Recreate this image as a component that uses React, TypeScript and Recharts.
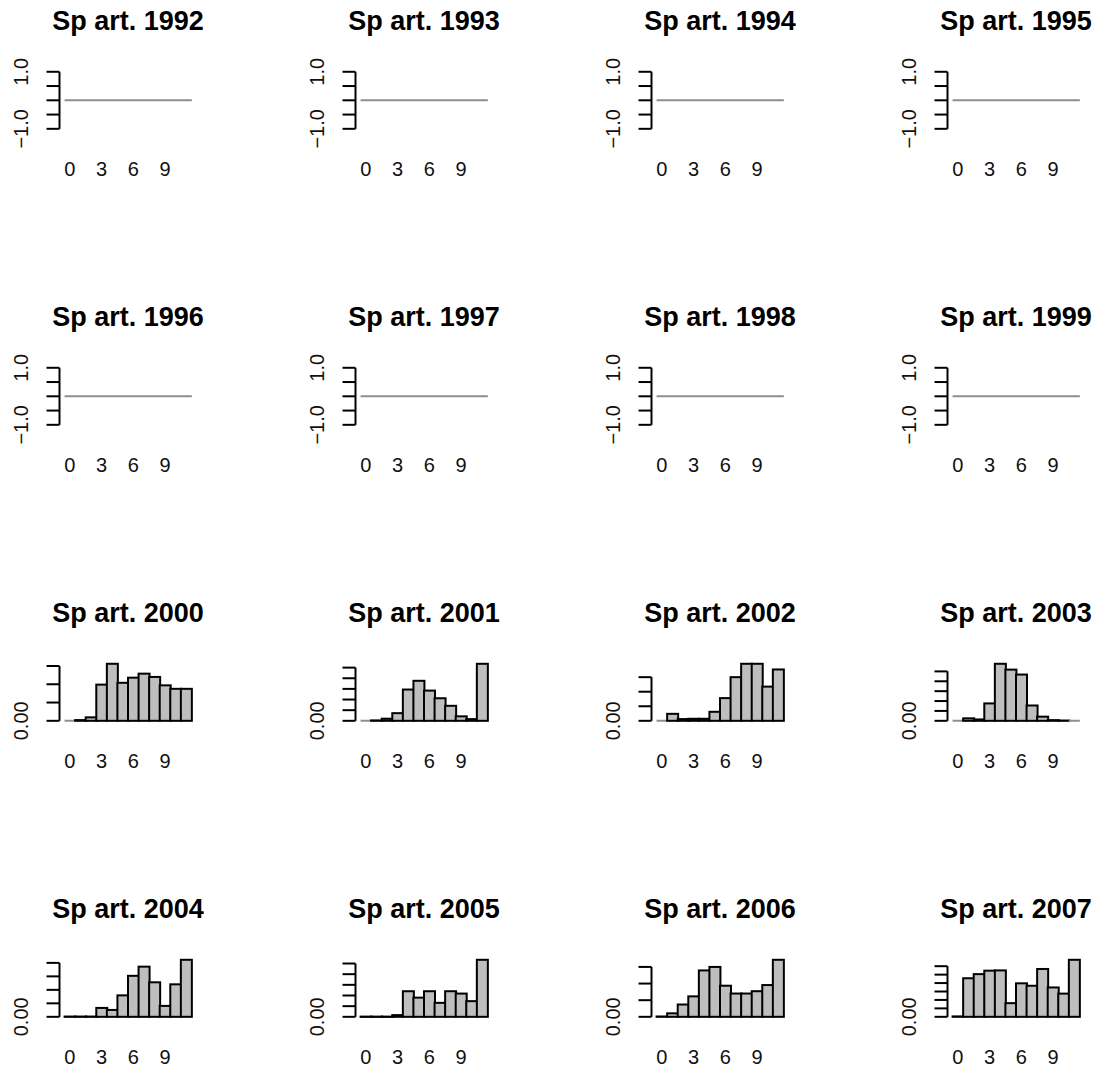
import React from 'react';
import { BarChart, Bar, XAxis, YAxis, ReferenceLine } from 'recharts';

// ---------- data ----------
const ages = [0, 1, 2, 3, 4, 5, 6, 7, 8, 9, 10, 11];
const ageTickLabels = [0, 3, 6, 9];
const years = [1992, 1993, 1994, 1995, 1996, 1997, 1998, 1999, 2000, 2001, 2002, 2003, 2004, 2005, 2006, 2007];

const sp1992 = [0, 0, 0, 0, 0, 0, 0, 0, 0, 0, 0, 0];
const sp1993 = [0, 0, 0, 0, 0, 0, 0, 0, 0, 0, 0, 0];
const sp1994 = [0, 0, 0, 0, 0, 0, 0, 0, 0, 0, 0, 0];
const sp1995 = [0, 0, 0, 0, 0, 0, 0, 0, 0, 0, 0, 0];
const sp1996 = [0, 0, 0, 0, 0, 0, 0, 0, 0, 0, 0, 0];
const sp1997 = [0, 0, 0, 0, 0, 0, 0, 0, 0, 0, 0, 0];
const sp1998 = [0, 0, 0, 0, 0, 0, 0, 0, 0, 0, 0, 0];
const sp1999 = [0, 0, 0, 0, 0, 0, 0, 0, 0, 0, 0, 0];
const sp2000 = [0, 0.002, 0.0095, 0.099, 0.156, 0.104, 0.118, 0.129, 0.12, 0.097, 0.0875, 0.0875];
const sp2001 = [0, 0.002, 0.01, 0.036, 0.147, 0.188, 0.142, 0.106, 0.0705, 0.021, 0.008, 0.268];
const sp2002 = [0, 0.024, 0.006, 0.007, 0.007, 0.031, 0.078, 0.15, 0.196, 0.196, 0.1175, 0.1765];
const sp2003 = [0, 0.0125, 0.007, 0.088, 0.2885, 0.259, 0.234, 0.0775, 0.021, 0.0035, 0.0015, 0];
const sp2004 = [0.001, 0.001, 0.001, 0.033, 0.0255, 0.0795, 0.152, 0.186, 0.128, 0.0405, 0.1205, 0.2115];
const sp2005 = [0.001, 0.001, 0.001, 0.008, 0.12, 0.09, 0.12, 0.0655, 0.12, 0.109, 0.0735, 0.2675];
const sp2006 = [0.001, 0.0105, 0.037, 0.0615, 0.1395, 0.15, 0.0935, 0.07, 0.07, 0.077, 0.0955, 0.1715];
const sp2007 = [0.001, 0.0914, 0.1012, 0.1094, 0.11, 0.0324, 0.0794, 0.0736, 0.1134, 0.0696, 0.055, 0.1352];

const yTicksEmpty = [-1, -0.5, 0, 0.5, 1];
const yTicks2000 = [0, 0.05, 0.1, 0.15];
const yTicks2001 = [0, 0.05, 0.1, 0.15, 0.2, 0.25];
const yTicks2002 = [0, 0.05, 0.1, 0.15];
const yTicks2003 = [0, 0.05, 0.1, 0.15, 0.2, 0.25];
const yTicks2004 = [0, 0.05, 0.1, 0.15, 0.2];
const yTicks2005 = [0, 0.05, 0.1, 0.15, 0.2, 0.25];
const yTicks2006 = [0, 0.05, 0.1, 0.15];
const yTicks2007 = [0, 0.02, 0.04, 0.06, 0.08, 0.1, 0.12];

const labelsEmpty = [-1, 1];
const labelsBars = [0];

const panels = [
  { year: years[0], values: sp1992, ticks: yTicksEmpty, shown: labelsEmpty, dec: 1 },
  { year: years[1], values: sp1993, ticks: yTicksEmpty, shown: labelsEmpty, dec: 1 },
  { year: years[2], values: sp1994, ticks: yTicksEmpty, shown: labelsEmpty, dec: 1 },
  { year: years[3], values: sp1995, ticks: yTicksEmpty, shown: labelsEmpty, dec: 1 },
  { year: years[4], values: sp1996, ticks: yTicksEmpty, shown: labelsEmpty, dec: 1 },
  { year: years[5], values: sp1997, ticks: yTicksEmpty, shown: labelsEmpty, dec: 1 },
  { year: years[6], values: sp1998, ticks: yTicksEmpty, shown: labelsEmpty, dec: 1 },
  { year: years[7], values: sp1999, ticks: yTicksEmpty, shown: labelsEmpty, dec: 1 },
  { year: years[8], values: sp2000, ticks: yTicks2000, shown: labelsBars, dec: 2 },
  { year: years[9], values: sp2001, ticks: yTicks2001, shown: labelsBars, dec: 2 },
  { year: years[10], values: sp2002, ticks: yTicks2002, shown: labelsBars, dec: 2 },
  { year: years[11], values: sp2003, ticks: yTicks2003, shown: labelsBars, dec: 2 },
  { year: years[12], values: sp2004, ticks: yTicks2004, shown: labelsBars, dec: 2 },
  { year: years[13], values: sp2005, ticks: yTicks2005, shown: labelsBars, dec: 2 },
  { year: years[14], values: sp2006, ticks: yTicks2006, shown: labelsBars, dec: 2 },
  { year: years[15], values: sp2007, ticks: yTicks2007, shown: labelsBars, dec: 2 },
];

// ---------- layout ----------
const FONT = '"Liberation Sans", Arial, Helvetica, sans-serif';
const CELL = 296;
const PLOT_LEFT = 59.5;
const PLOT_TOP = 69.5;
const PLOT_W = 137;
const PLOT_H = 61.6;
const YAXIS_W = 40;
const XAXIS_H = 30;
const BAR_FILL = '#bebebe';

const BarShape = (props: any) => {
  const { x, y, width, height, payload } = props;
  if (payload && payload.v === 0) {
    return <line x1={x} x2={x + width} y1={y} y2={y} stroke="#8f8f8f" strokeWidth={2} />;
  }
  const h = Math.max(Math.abs(height), 0.3);
  const top = height >= 0 ? y : y + height;
  return <rect x={x} y={top} width={width} height={h} fill={BAR_FILL} stroke="#000" strokeWidth={2} />;
};

function Panel({ p, row, col }: any) {
  const data = ages.map((a, i) => ({ age: a, v: p.values[i] }));
  const maxV = Math.max(...p.values);
  const lo = maxV === 0 ? -1 : 0;
  const hi = maxV === 0 ? 1 : maxV;
  const ext = (hi - lo) * 0.04;
  const yDomain = [lo - ext, hi + ext];
  const xExt = ages.length * 0.04;
  const xDomain = [ages[0] - 0.5 - xExt, ages[ages.length - 1] + 0.5 + xExt];
  const W = CELL;
  const H = CELL;
  const margin = {
    top: PLOT_TOP,
    left: PLOT_LEFT - YAXIS_W,
    right: W - PLOT_LEFT - PLOT_W,
    bottom: H - PLOT_TOP - PLOT_H - XAXIS_H,
  };
  const fmt = (v: number) => {
    const s = Math.abs(v).toFixed(p.dec);
    return v < 0 ? '\u2212' + s : s;
  };
  const YTick = (tp: any) => {
    const v = tp.payload.value;
    if (!p.shown.some((s: number) => Math.abs(s - v) < 1e-9)) return <g />;
    const bx = tp.x - 18.5;
    return (
      <text x={bx} y={tp.y} transform={`rotate(-90 ${bx} ${tp.y})`} textAnchor="middle"
        fontFamily={FONT} fontSize={20} fill="#111">{fmt(v)}</text>
    );
  };
  const XTick = (tp: any) => (
    <text x={tp.x} y={tp.y + 44.5} textAnchor="middle" fontFamily={FONT} fontSize={20} fill="#111">
      {tp.payload.value}
    </text>
  );
  return (
    <div style={{ position: 'absolute', left: col * CELL, top: row * CELL, width: W, height: H }}>
      <BarChart width={W} height={H} data={data} margin={margin} barCategoryGap={0} barGap={0}>
        <XAxis dataKey="age" type="number" domain={xDomain} ticks={ageTickLabels} interval={0}
          axisLine={false} tickLine={false} tickSize={0} tickMargin={0} height={XAXIS_H}
          tick={XTick} allowDataOverflow />
        <YAxis type="number" domain={yDomain} ticks={p.ticks} interval={0} axisLine={false}
          stroke="#000" tickLine={{ stroke: '#000', strokeWidth: 2 }} tickSize={13} tickMargin={0}
          width={YAXIS_W} tick={YTick} allowDataOverflow />
        <Bar dataKey="v" isAnimationActive={false} shape={BarShape} fill={BAR_FILL} />
        <ReferenceLine ifOverflow="visible" stroke="#000" strokeWidth={2}
          segment={[{ x: xDomain[0], y: p.ticks[0] }, { x: xDomain[0], y: p.ticks[p.ticks.length - 1] }]} />
      </BarChart>
    </div>
  );
}

export default function App() {
  return (
    <div style={{ position: 'absolute', left: 0, top: 0, width: 1112, height: 1072, overflow: 'hidden', background: '#fff' }}>
      {panels.map((p, i) => (
        <Panel key={p.year} p={p} row={Math.floor(i / 4)} col={i % 4} />
      ))}
      <svg width={1112} height={1072} style={{ position: 'absolute', left: 0, top: 0, pointerEvents: 'none' }}>
        {panels.map((p, i) => {
          const row = Math.floor(i / 4);
          const col = i % 4;
          return (
            <text key={p.year} x={col * CELL + PLOT_LEFT + PLOT_W / 2} y={row * CELL + PLOT_TOP - 39.7}
              textAnchor="middle" fontFamily={FONT} fontWeight="bold" fontSize={27} fill="#000">
              {`Sp art. ${p.year}`}
            </text>
          );
        })}
      </svg>
    </div>
  );
}
